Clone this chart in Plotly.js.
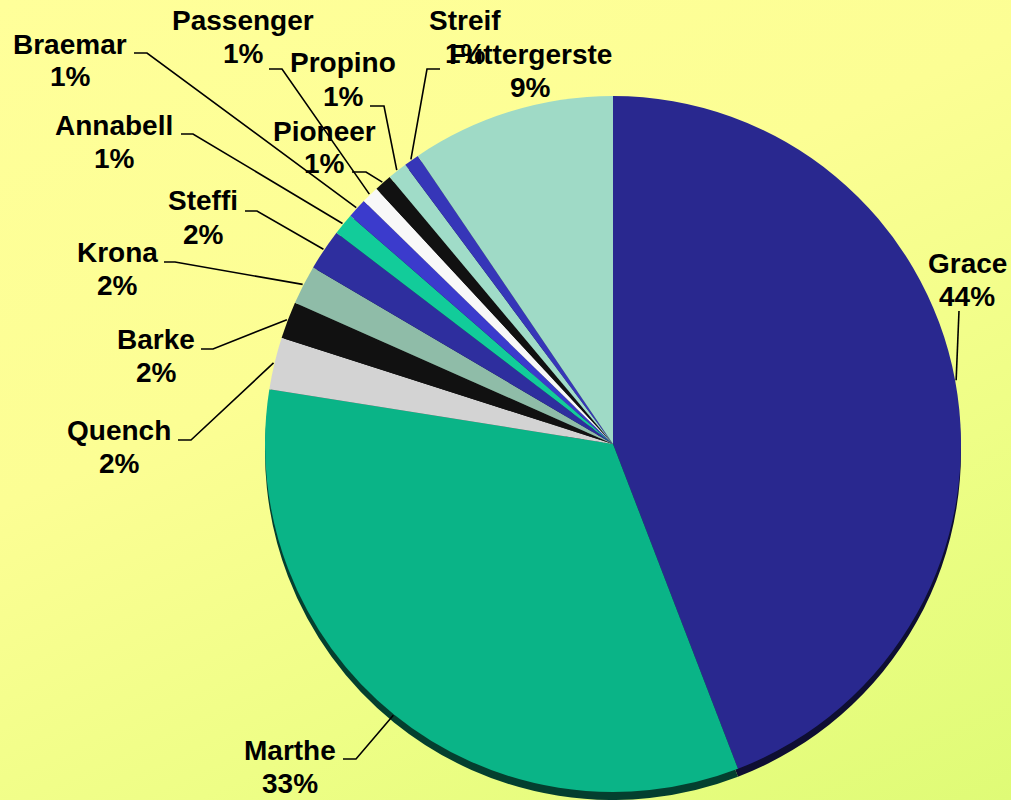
<!DOCTYPE html>
<html>
<head>
<meta charset="utf-8">
<script src="https://cdn.plot.ly/plotly-3.0.1.min.js"></script>
<style>
  html, body { margin: 0; padding: 0; }
  body {
    width: 1011px; height: 800px; overflow: hidden;
    background: linear-gradient(155deg, #ffff9a 0%, #fcfe94 40%, #eefe86 70%, #dffb76 100%);
  }
  #chart { width: 1011px; height: 800px; }
</style>
</head>
<body>
<div id="chart"></div>
<script>
// ---- data ----
const categories = ['Grace', 'Marthe', 'Quench', 'Barke', 'Krona', 'Steffi', 'Annabell',
                    'Braemar', 'Passenger', 'Pioneer', 'Propino', 'Streif', 'Futtergerste'];
const shares = [43.8, 33.1, 2.4, 1.7, 1.8, 1.9, 1.0, 0.9, 0.8, 0.8, 0.9, 0.7, 9.4];

// ---- styles ----
const sliceColors = ['#29288f', '#0ab487', '#d3d3d3', '#111111', '#8fbca8', '#2e2e9e', '#12cc9a',
                     '#3b3bcc', '#f8f8f8', '#111111', '#a0dcc8', '#3636b8', '#9fdac6'];

// ---- layout (pixels) ----
const W = 1011, H = 800;
const CX = 613, CY = 444, R = 348, SHADOW = 8;
// label line-1 centres; line 2 sits LINE_GAP below
const labelX = [967, 290, 119, 156, 117, 203, 114, 70, 243, 324, 343, 465, 530];
const labelY = [263, 750, 431, 339, 253, 201, 125, 44, 20, 131, 63, 20, 55];
const LINE_GAP = 33;
// leader elbows: horizontal stub from elbowA to elbowB at elbowY, then to the rim
const elbowA = [959, 343, 178, 201, 164, 245, 181, 134, 269, 352, 370, 440, null];
const elbowB = [959, 356, 191, 213, 175, 257, 193, 147, 282, 366, 384, 427, null];
const elbowY = [311, 759, 440, 349, 262, 211, 134, 53, 69, 172, 106, 69, null];

const px = x => x / W;
const py = y => 1 - y / H;

function darken(hex, f) {
  const n = parseInt(hex.slice(1), 16);
  const r = Math.round(((n >> 16) & 255) * f), g = Math.round(((n >> 8) & 255) * f), b = Math.round((n & 255) * f);
  return 'rgb(' + r + ',' + g + ',' + b + ')';
}

const pieBase = {
  type: 'pie', labels: categories, values: shares, sort: false, direction: 'clockwise',
  rotation: 0, textinfo: 'none', showlegend: false, hoverinfo: 'label+percent'
};

const shadowTrace = Object.assign({}, pieBase, {
  marker: { colors: sliceColors.map(c => darken(c, 0.35)), line: { width: 0 } },
  domain: { x: [px(CX - R), px(CX + R)], y: [py(CY + SHADOW + R), py(CY + SHADOW - R)] },
  hoverinfo: 'skip'
});
const mainTrace = Object.assign({}, pieBase, {
  marker: { colors: sliceColors, line: { width: 0 } },
  domain: { x: [px(CX - R), px(CX + R)], y: [py(CY + R), py(CY - R)] }
});

// percentages and mid-angles from the data
const total = shares.reduce((a, b) => a + b, 0);
const pctText = shares.map(v => Math.round(v / total * 100) + '%');
let cum = 0;
const midAngle = shares.map(v => { const m = (cum + v / 2) / total * 2 * Math.PI; cum += v; return m; });

const font = { family: 'Liberation Sans, Arial, sans-serif', size: 28, color: '#000000' };
const annotations = [];
const shapes = [];
categories.forEach((c, i) => {
  annotations.push({ xref: 'paper', yref: 'paper', x: px(labelX[i]), y: py(labelY[i]),
    xanchor: 'center', yanchor: 'middle', showarrow: false, text: '<b>' + c + '</b>', font: font });
  annotations.push({ xref: 'paper', yref: 'paper', x: px(labelX[i]), y: py(labelY[i] + LINE_GAP),
    xanchor: 'center', yanchor: 'middle', showarrow: false, text: '<b>' + pctText[i] + '</b>', font: font });
  if (elbowA[i] !== null) {
    const rx = CX + (R + 1) * Math.sin(midAngle[i]);
    const ry = CY - (R + 1) * Math.cos(midAngle[i]);
    shapes.push({ type: 'path', xref: 'paper', yref: 'paper',
      path: 'M ' + px(elbowA[i]) + ',' + py(elbowY[i]) + ' L ' + px(elbowB[i]) + ',' + py(elbowY[i]) +
            ' L ' + px(rx) + ',' + py(ry),
      line: { color: '#000000', width: 1.6 } });
  }
});

const layout = {
  width: W, height: H, margin: { l: 0, r: 0, t: 0, b: 0 },
  paper_bgcolor: 'rgba(0,0,0,0)', plot_bgcolor: 'rgba(0,0,0,0)',
  showlegend: false, annotations: annotations, shapes: shapes
};

Plotly.newPlot('chart', [shadowTrace, mainTrace], layout, { displayModeBar: false, staticPlot: true });
</script>
</body>
</html>
